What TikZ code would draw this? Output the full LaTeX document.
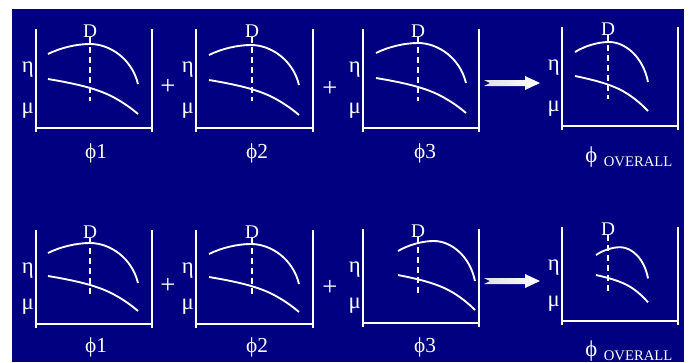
\documentclass[tikz,border=0pt]{standalone}
\usepackage{fontspec}
\setmainfont{Liberation Serif}
\definecolor{slideblue}{RGB}{0,0,128}

\begin{document}
\begin{tikzpicture}[x=0.75pt, y=-0.75pt,
  axisline/.style={white, line width=1.5pt},
  curve/.style={white, line width=1.4pt},
  dline/.style={white, line width=1.4pt, dash pattern=on 4.5pt off 3pt},
  lbl/.style={white, inner sep=0pt, font=\fontsize{14.5}{16}\selectfont},
  greek/.style={lbl, font=\fontsize{17}{18}\selectfont}]
  \useasboundingbox (0,0) rectangle (691,362);
  \fill[white] (0,0) rectangle (691,362);
  \fill[slideblue] (12,9) rectangle (684,362);
  % Eight panels: box, D line, eta and mu curves
  \foreach \n/\L/\R/\T/\B/\D/\cs/\ce/\ey/\my/\ys in {
      a/36/152/29/128/90/12/102/-74/-49/1,
      b/196/313/29/128/252/13/103/-73/-48/1,
      c/363/479/29/128/418/13/103/-75/-50/1,
      d/562/678/27/126/608/13/86/-74/-50/1,
      e/36/152/230/324/90/12/102/-71/-48/1,
      f/196/313/230/324/252/13/103/-70/-47/1,
      g/363/479/229/323/418/35/112/-72/-48/1,
      h/562/678/227/321/608/34/86/-66/-46/0.78} {
    \draw[axisline] (\L,\T) -- (\L,\B+4) (\R,\T) -- (\R,\B+4)
      (\L-1,\B) -- (\R+1,\B);
    \node[lbl, anchor=base] (D-\n) at (\D,\T+8) {D};
    \draw[dline] (\D,\T+8) -- (\D,\B-27);
    \node[greek, anchor=base east] (eta-\n) at (\L-2,\T+43) {η};
    \node[greek, anchor=base east] (mu-\n) at (\L-2,\B-15) {μ};
    \begin{scope}[shift={(\L+\cs,\B+(\ey))}, xscale={(\ce-\cs)/90}, yscale=\ys]
      \draw[curve] (0,0) .. controls (12,-6) and (28,-10) .. (42,-10)
        .. controls (62,-10) and (84,5) .. (90,30);
    \end{scope}
    \begin{scope}[shift={(\L+\cs,\B+(\my))}, xscale={(\ce-\cs)/90}, yscale=\ys]
      \draw[curve] (0,0) .. controls (30,5) and (50,10) .. (65,18)
        .. controls (75,23.3) and (83,29) .. (90,35);
    \end{scope}
  }
  % Plus signs
  \foreach \x/\y [count=\k] in {168/87, 330/89, 168/286, 330/288}
    \node[lbl, font=\fontsize{20}{20}\selectfont] (plus-\k) at (\x,\y) {+};
  % Block arrows
  \foreach \y [count=\k] in {83, 281} {
    \coordinate (arr-\k) at (484,\y);
    \shade[left color=white!88!black, right color=white]
      (arr-\k) ++(0,-3) -- ++(41,0) -- ++(0,-4) -- ++(15,7) -- ++(-15,7)
      -- ++(0,-4) -- ++(-41,0) -- ++(6,-3) -- cycle;
  }
  % Panel captions
  \foreach \x/\t/\y [count=\k] in {96/1/158, 257/2/158, 425/3/158,
      96/1/352, 257/2/352, 425/3/352}
    \node[lbl, anchor=base, font=\fontsize{16}{18}\selectfont] (phi-\k) at (\x,\y) {ϕ\t};
  \foreach \y [count=\k] in {162, 356}
    \node[lbl, anchor=base west, font=\fontsize{17}{18}\selectfont] (phiall-\k) at (585,\y)
      {ϕ\hspace{5pt}\raisebox{-3pt}{\fontsize{11}{12}\selectfont OVERALL}};
\end{tikzpicture}
\end{document}
